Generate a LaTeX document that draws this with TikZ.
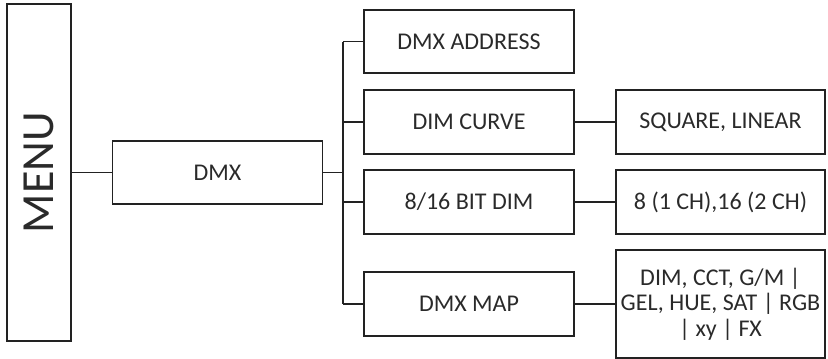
\documentclass[tikz,border=0pt]{standalone}
\usepackage{fontspec}
\setmainfont{Carlito}
\definecolor{ink}{HTML}{222222}
\definecolor{txt}{HTML}{2A2A2A}
\begin{document}
\begin{tikzpicture}[x=1pt,y=-1pt,
  box/.style={draw=ink,line width=1.4pt,rectangle,inner sep=0pt,text=txt,
    font=\fontsize{24}{25.5}\selectfont,align=center},
  midbox/.style={box,minimum width=210pt,minimum height=63pt},
  rbox/.style={box,minimum width=209pt,minimum height=64pt},
  link/.style={draw=ink,line width=1.2pt}]
\useasboundingbox (0,0) rectangle (828,359);
\node[box,minimum width=64pt,minimum height=337pt] (menu) at (39,172.5)
  {\rotatebox{90}{\fontsize{46}{50}\selectfont MENU}};
\node[midbox] (dmx) at (217.5,172.5) {DMX};
\node[midbox] (addr) at (469,41.5) {DMX ADDRESS};
\node[midbox,minimum height=64pt] (curve) at (469,122) {DIM CURVE};
\node[midbox,minimum height=64pt] (bit) at (469,202) {8/16 BIT DIM};
\node[midbox,minimum height=64pt] (map) at (469,304) {DMX MAP};
\node[rbox] (sq) at (720.5,122) {SQUARE, LINEAR};
\node[rbox] (ch) at (720.5,202) {8 (1 CH),16 (2 CH)};
\node[box,minimum width=209pt,minimum height=108pt] (list) at (720.5,304)
  {DIM, CCT, G/M |\\GEL, HUE, SAT | RGB\\| xy | FX};
\coordinate (br) at (343,172.5);
\draw[link] (menu.east |- dmx.west) -- (dmx.west);
\draw[link] (dmx.east) -- (br);
\draw[link] (br |- addr.west) -- (br |- map.west);
\draw[link] (br |- addr.west) -- (addr.west);
\draw[link] (br |- curve.west) -- (curve.west);
\draw[link] (br |- bit.west) -- (bit.west);
\draw[link] (br |- map.west) -- (map.west);
\draw[link] (curve.east) -- (sq.west);
\draw[link] (bit.east) -- (ch.west);
\draw[link] (map.east) -- (map.east -| list.west);
\end{tikzpicture}
\end{document}
